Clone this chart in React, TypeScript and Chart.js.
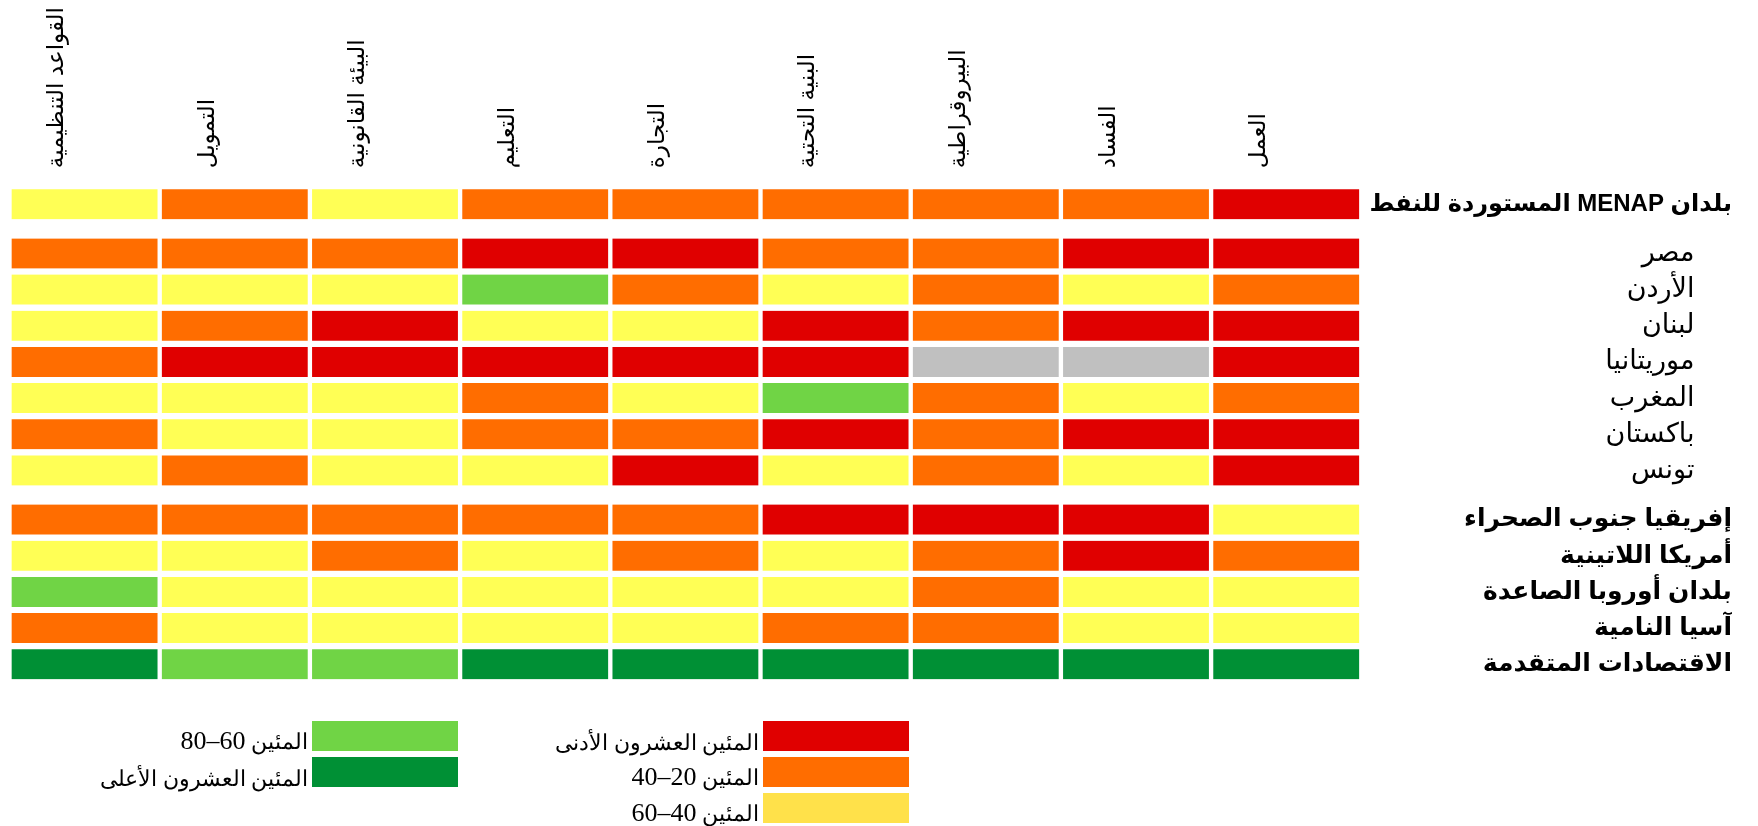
import React, { useEffect, useRef } from "react";
import { Chart, registerables } from "chart.js";
Chart.register(...registerables);

// Column headers (left to right)
const columns = [
  "القواعد التنظيمية",
  "التمويل",
  "البيئة القانونية",
  "التعليم",
  "التجارة",
  "البنية التحتية",
  "البيروقراطية",
  "الفساد",
  "العمل",
];

// Row labels (top to bottom)
const rows = [
  "بلدان MENAP المستوردة للنفط",
  "مصر",
  "الأردن",
  "لبنان",
  "موريتانيا",
  "المغرب",
  "باكستان",
  "تونس",
  "إفريقيا جنوب الصحراء",
  "أمريكا اللاتينية",
  "بلدان أوروبا الصاعدة",
  "آسيا النامية",
  "الاقتصادات المتقدمة",
];
// 0 = aggregate, 1 = country, 2 = comparator region
const rowGroup = [0, 1, 1, 1, 1, 1, 1, 1, 2, 2, 2, 2, 2];

// Quintile codes: 0 = n/a, 1 = bottom 20th, 2 = 20-40, 3 = 40-60, 4 = 60-80, 5 = top 20th
const regulations = [3, 2, 3, 3, 2, 3, 2, 3, 2, 3, 4, 2, 5];
const finance = [2, 2, 3, 2, 1, 3, 3, 2, 2, 3, 3, 3, 4];
const legal = [3, 2, 3, 1, 1, 3, 3, 3, 2, 2, 3, 3, 4];
const education = [2, 1, 4, 3, 1, 2, 2, 3, 2, 3, 3, 3, 5];
const trade = [2, 1, 2, 3, 1, 3, 2, 1, 2, 2, 3, 3, 5];
const infrastructure = [2, 2, 3, 1, 1, 4, 1, 3, 1, 3, 3, 2, 5];
const bureaucracy = [2, 2, 2, 2, 0, 2, 2, 2, 1, 2, 2, 2, 5];
const corruption = [2, 1, 3, 1, 0, 3, 1, 3, 1, 1, 3, 3, 5];
const labor = [1, 1, 2, 1, 1, 2, 1, 1, 3, 2, 3, 3, 5];
const columnValues = [regulations, finance, legal, education, trade, infrastructure, bureaucracy, corruption, labor];

const quintileColors = ["#C0C0C0", "#E00000", "#FF6D00", "#FFFF55", "#70D445", "#009035"];

const legendLabels = [
  "المئين العشرون الأدنى",
  "المئين 20–40",
  "المئين 40–60",
  "المئين 60–80",
  "المئين العشرون الأعلى",
];
const legendColors = ["#E00000", "#FF6D00", "#FFE14A", "#70D445", "#009035"];

const GROUP_GAP = 0.36;
const rowPos = rows.map((_, i) => i + GROUP_GAP * rowGroup[i]);
const INDENT = "\u00A0".repeat(5);
const SANS = "'Liberation Sans', Arial, 'DejaVu Sans', sans-serif";
const SERIF = "'Liberation Serif', 'Times New Roman', 'DejaVu Serif', serif";
const rowFontSize = [24, 27, 25];

export default function App() {
  const ref = useRef<HTMLCanvasElement>(null);

  useEffect(() => {
    const canvas = ref.current!;
    const chart = new Chart(canvas, {
      type: "bar",
      data: {
        datasets: columnValues.map((vals, c) => ({
          label: columns[c],
          data: vals.map((_v, r) => ({ y: rowPos[r], x: [c, c + 1] })),
          backgroundColor: vals.map((v) => quintileColors[v]),
          borderColor: "#ffffff",
          borderWidth: { left: 2.5, right: 2.5, top: 0, bottom: 0 },
          borderSkipped: false,
          barThickness: 30,
          grouped: false,
        })) as any,
      },
      options: {
        indexAxis: "y",
        responsive: false,
        animation: false,
        layout: { padding: { left: 9.5, right: 26, top: 0, bottom: 143.7 } },
        plugins: { legend: { display: false }, tooltip: { enabled: false } },
        scales: {
          x: {
            type: "linear",
            position: "top",
            offset: false,
            min: 0,
            max: columns.length,
            grid: { display: false, drawTicks: false },
            border: { display: false },
            afterBuildTicks: (s: any) => {
              s.ticks = columns.map((_, i) => ({ value: i + 0.5 }));
            },
            afterFit: (s: any) => {
              s.height = 186.2;
              s.paddingLeft = 0;
              s.paddingRight = 0;
            },
            ticks: {
              autoSkip: false,
              minRotation: 90,
              maxRotation: 90,
              padding: 18,
              color: "#000",
              font: { family: SANS, size: 23 },
              callback: (_v: any, i: number) => columns[i],
            },
          },
          y: {
            type: "linear",
            position: "right",
            offset: false,
            reverse: true,
            min: -0.5,
            max: rowPos[rowPos.length - 1] + 0.5,
            grid: { display: false, drawTicks: false, offset: false },
            border: { display: false },
            afterBuildTicks: (s: any) => {
              s.ticks = rowPos.map((v) => ({ value: v }));
            },
            afterFit: (s: any) => {
              s.width = 370.7;
              s.paddingTop = 0;
              s.paddingBottom = 0;
            },
            ticks: {
              autoSkip: false,
              crossAlign: "far",
              padding: 3,
              color: "#000",
              font: (ctx: any) => ({
                family: SANS,
                size: rowFontSize[rowGroup[ctx.index]] || 25,
                weight: rowGroup[ctx.index] === 1 ? "normal" : "bold",
              }),
              callback: (_v: any, i: number) => (rowGroup[i] === 1 ? INDENT + rows[i] : rows[i]),
            },
          },
        } as any,
      },
    });
    return () => chart.destroy();
  }, []);

  return (
    <div style={{ position: "absolute", left: 0, top: 0, width: 1758, height: 826, background: "#fff" }}>
      <canvas ref={ref} width={1758} height={826} style={{ direction: "rtl", display: "block" }} />
      {legendLabels.map((label, i) => {
        const boxLeft = i < 3 ? 763 : 312;
        const boxTop = 721 + 36 * (i < 3 ? i : i - 3);
        const parts = label.split(/(\d+–\d+)/);
        return (
          <React.Fragment key={i}>
            <div
              style={{
                position: "absolute",
                left: boxLeft,
                top: boxTop,
                width: 146,
                height: 30,
                background: legendColors[i],
              }}
            />
            <div
              style={{
                position: "absolute",
                right: 1758 - (boxLeft - 4),
                top: boxTop + 3,
                height: 30,
                display: "flex",
                alignItems: "flex-end",
                fontFamily: SERIF,
                fontSize: 22,
                lineHeight: 1,
                direction: "rtl",
                whiteSpace: "nowrap",
                color: "#000",
              }}
            >
              <span>
                {parts.map((p, k) =>
                  /\d/.test(p) ? (
                    <span key={k} style={{ fontSize: 26 }}>
                      {p}
                    </span>
                  ) : (
                    <React.Fragment key={k}>{p}</React.Fragment>
                  )
                )}
              </span>
            </div>
          </React.Fragment>
        );
      })}
    </div>
  );
}
